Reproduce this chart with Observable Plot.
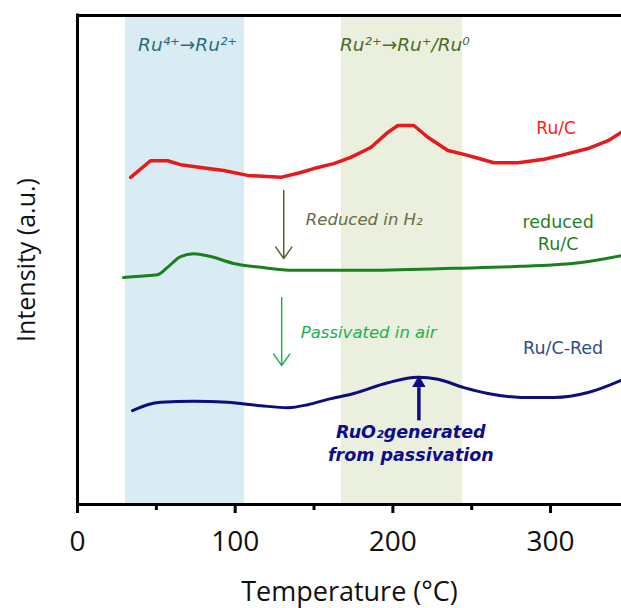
<!DOCTYPE html>
<html><head><meta charset="utf-8">
<script src="https://cdn.jsdelivr.net/npm/d3@7"></script>
<script src="https://cdn.jsdelivr.net/npm/@observablehq/plot@0.6"></script>
<style>body{margin:0;background:#fff}</style>
</head><body><div id="chart"></div>
<script>
// Ru/C (red)
const ruC_T = [33.7,46.3,57.1,65.4,78.1,92.7,107.9,128.9,141.6,149.8,162.5,173.3,186,196.8,203.2,213.3,222.2,234.9,245.1,254,264.1,279.4,295.9,306.7,323.8,336.5,344.8];
const ruC_I = [66.9,70.3,70.3,69.5,68.9,68.3,67.3,66.9,67.9,68.7,69.7,71.0,73.0,76.1,77.5,77.5,75.1,72.4,71.6,70.8,69.9,69.9,70.6,71.4,72.8,74.4,76.1];
// reduced Ru/C (green)
const red_T = [29.2,40.0,50.8,57.1,65.4,73.7,84.4,99.0,116.2,137.1,179.7,238.7,281.3,319.4,344.8];
const red_I = [46.4,46.7,47.0,48.5,50.7,51.3,50.7,49.3,48.5,47.9,47.9,48.3,48.7,49.5,50.9];
// Ru/C-Red (navy)
const pas_T = [34.9,44.4,52.7,73.7,95.2,116.2,133.3,146,158.7,175.2,196.8,215.9,228.6,245.1,260.3,281.3,302.2,323.8,344.8];
const pas_I = [19.2,20.4,20.9,21.1,20.9,20.2,19.8,20.4,21.5,22.7,24.9,26.0,25.6,23.9,22.7,21.9,21.9,22.9,25.4];

// shaded temperature regions
const bandBlue = [{x1: 30.5, x2: 106}];
const bandOlive = [{x1: 167.4, x2: 244.3}];

const majorTicks = [0, 100, 200, 300];
const minorTicks = [50, 150, 250];

// annotation arrows
const arrowH2 = [{x1: 130.8, y1: 64.2, x2: 130.8, y2: 50.3}];
const arrowAir = [{x1: 129.5, y1: 42.3, x2: 129.5, y2: 28.4}];
const arrowRuO2 = [{x1: 216.5, y1: 17.2, x2: 216.5, y2: 24.0}];
const arrowRuO2Head = [{x: 216.5, y: 24.8}];

const toRows = (T, I) => T.map((t, i) => ({T: t, I: I[i]}));

const ann = "DejaVu Sans";
const main = "Open Sans";

const plot = Plot.plot({
  width: 621,
  height: 608,
  marginLeft: 77,
  marginRight: 0,
  marginTop: 15,
  marginBottom: 104,
  style: {fontFamily: main, background: "#fff", overflow: "hidden"},
  x: {domain: [0, 345]},
  y: {domain: [0, 100], axis: null},
  marks: [
    Plot.rect(bandBlue, {x1: "x1", x2: "x2", fill: "#daecf3"}),
    Plot.rect(bandOlive, {x1: "x1", x2: "x2", fill: "#ebf0de"}),
    Plot.line(toRows(ruC_T, ruC_I), {x: "T", y: "I", stroke: "#e8191c", strokeWidth: 3.5, curve: "linear"}),
    Plot.line(toRows(red_T, red_I), {x: "T", y: "I", stroke: "#1a801e", strokeWidth: 3, curve: "monotone-x"}),
    Plot.line(toRows(pas_T, pas_I), {x: "T", y: "I", stroke: "#0d0d7e", strokeWidth: 3, curve: "monotone-x"}),
    Plot.ruleY([0, 100], {stroke: "#000", strokeWidth: 3}),
    Plot.ruleX([0], {stroke: "#000", strokeWidth: 3, strokeLinecap: "square"}),
    Plot.axisX({ticks: majorTicks, tickSize: 9, strokeWidth: 3, tickPadding: 18, fontSize: 28, fontFamily: main, fill: "#111", label: null}),
    Plot.axisX({ticks: minorTicks, tickSize: 6, strokeWidth: 3, tickFormat: () => "", label: null}),
    Plot.text(["Temperature (°C)"], {frameAnchor: "bottom", lineAnchor: "middle", textAnchor: "middle", dy: 88, fontSize: 27, fontFamily: main, fill: "#111"}),
    Plot.text(["Intensity (a.u.)"], {frameAnchor: "left", textAnchor: "middle", lineAnchor: "middle", dx: -51, rotate: -90, fontSize: 25, fontFamily: main, fill: "#111"}),
    Plot.arrow(arrowH2, {x1: "x1", y1: "y1", x2: "x2", y2: "y2", stroke: "#5a6035", strokeWidth: 1.5, headLength: 14, headAngle: 70}),
    Plot.arrow(arrowAir, {x1: "x1", y1: "y1", x2: "x2", y2: "y2", stroke: "#22b04e", strokeWidth: 1.5, headLength: 14, headAngle: 70}),
    Plot.link(arrowRuO2, {x1: "x1", y1: "y1", x2: "x2", y2: "y2", stroke: "#0d0d7e", strokeWidth: 3.5}),
    Plot.dot(arrowRuO2Head, {x: "x", y: "y", symbol: "triangle", r: 5, fill: "#0d0d7e", stroke: "none"}),
    Plot.text([{x: 69.8, y: 93.9, t: "Ru⁴⁺→Ru²⁺"}], {x: "x", y: "y", text: "t", fill: "#2b6b7d", fontSize: 18.5, fontStyle: "italic", fontFamily: ann}),
    Plot.text([{x: 207.6, y: 93.9, t: "Ru²⁺→Ru⁺/Ru⁰"}], {x: "x", y: "y", text: "t", fill: "#4e6a2b", fontSize: 18.5, fontStyle: "italic", fontFamily: ann}),
    Plot.text([{x: 303.5, y: 76.9, t: "Ru/C"}], {x: "x", y: "y", text: "t", fill: "#ff1a1a", fontSize: 17, fontFamily: ann}),
    Plot.text([{x: 304.8, y: 55.8, t: "reduced\nRu/C"}], {x: "x", y: "y", text: "t", fill: "#1f7f23", fontSize: 17.5, lineHeight: 1.3, fontFamily: ann}),
    Plot.text([{x: 308, y: 31.9, t: "Ru/C-Red"}], {x: "x", y: "y", text: "t", fill: "#2c4d8c", fontSize: 17.5, fontFamily: ann}),
    Plot.text([{x: 144.8, y: 58.3, t: "Reduced in H₂"}], {x: "x", y: "y", text: "t", fill: "#6b6b45", fontSize: 16.5, fontStyle: "italic", textAnchor: "start", fontFamily: ann}),
    Plot.text([{x: 141.6, y: 35.2, t: "Passivated in air"}], {x: "x", y: "y", text: "t", fill: "#22b04e", fontSize: 16.5, fontStyle: "italic", textAnchor: "start", fontFamily: ann}),
    Plot.text([{x: 211.4, y: 12.7, t: "RuO₂generated\nfrom passivation"}], {x: "x", y: "y", text: "t", fill: "#0c0c8c", fontSize: 17.5, fontStyle: "italic", fontWeight: "bold", lineHeight: 1.3, fontFamily: ann})
  ]
});
document.getElementById("chart").appendChild(plot);
</script>
</body></html>
